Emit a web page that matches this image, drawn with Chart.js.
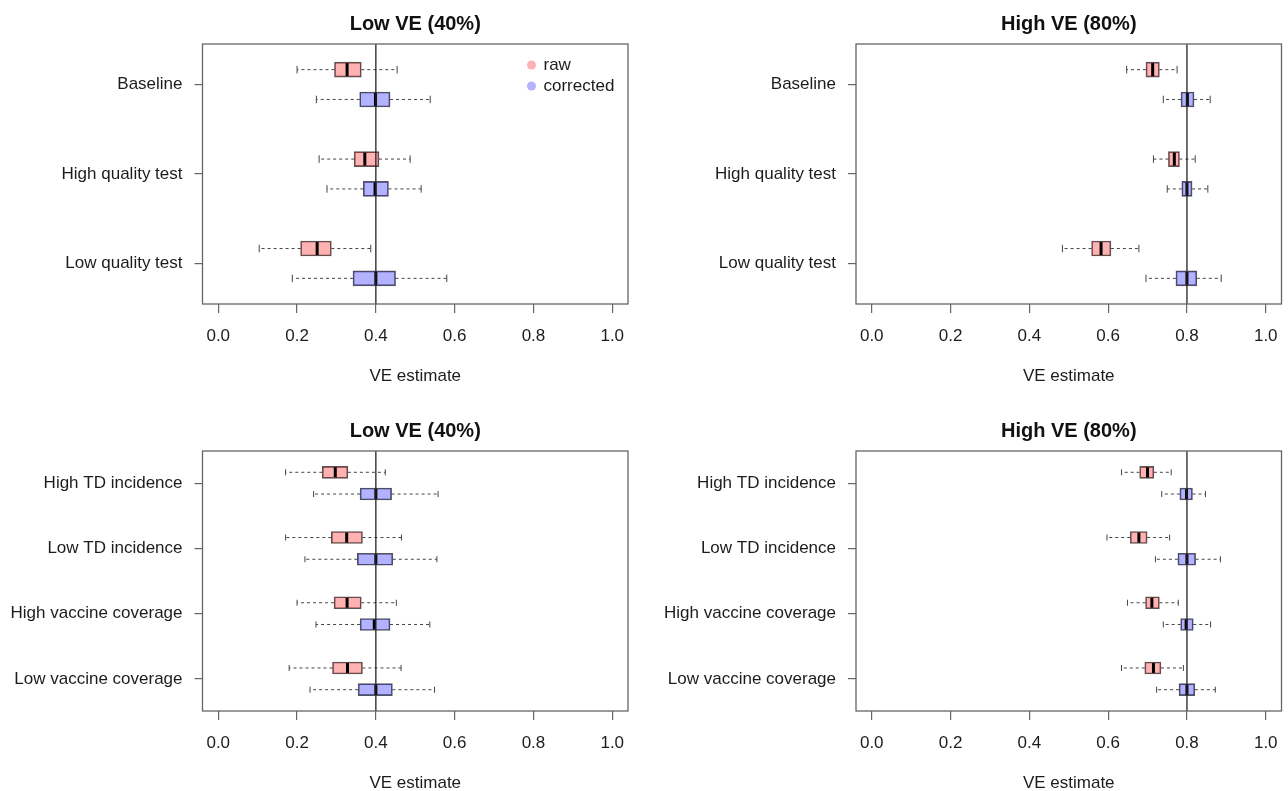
<!DOCTYPE html>
<html>
<head>
<meta charset="utf-8">
<script src="https://cdn.jsdelivr.net/npm/chart.js@4.4.1/dist/chart.umd.min.js"></script>
<style>
  html, body { margin: 0; padding: 0; background: #ffffff; overflow: hidden; width: 1288px; height: 791px; }
  canvas { position: absolute; }
</style>
</head>
<body>
<canvas id="c1" width="644" height="398" style="left:0px;top:0px;"></canvas>
<canvas id="c2" width="664" height="398" style="left:644px;top:0px;"></canvas>
<canvas id="c3" width="644" height="410" style="left:0px;top:395px;"></canvas>
<canvas id="c4" width="664" height="410" style="left:644px;top:395px;"></canvas>
<script>
// ---------------- DATA ----------------
const xTickValues = [0.0, 0.2, 0.4, 0.6, 0.8, 1.0];
const xAxisTitle = 'VE estimate';
const panelTitles = ['Low VE (40%)', 'High VE (80%)'];
const trueVE = [0.4, 0.8];
const seriesNames = ['raw', 'corrected'];

const topCategories = ['Baseline', 'High quality test', 'Low quality test'];
const bottomCategories = ['High TD incidence', 'Low TD incidence', 'High vaccine coverage', 'Low vaccine coverage'];

// each entry: [lower whisker, Q1, median, Q3, upper whisker]
const topLowRaw = [
  [0.200, 0.295, 0.327, 0.363, 0.454],
  [0.256, 0.345, 0.372, 0.408, 0.487],
  [0.104, 0.209, 0.251, 0.287, 0.387]
];
const topLowCorrected = [
  [0.249, 0.359, 0.399, 0.436, 0.538],
  [0.276, 0.368, 0.398, 0.432, 0.515],
  [0.188, 0.342, 0.400, 0.450, 0.580]
];
const topHighRaw = [
  [0.647, 0.696, 0.713, 0.730, 0.775],
  [0.715, 0.753, 0.768, 0.781, 0.821],
  [0.484, 0.558, 0.582, 0.607, 0.678]
];
const topHighCorrected = [
  [0.740, 0.785, 0.801, 0.818, 0.859],
  [0.750, 0.787, 0.800, 0.813, 0.853],
  [0.696, 0.772, 0.800, 0.825, 0.887]
];
const bottomLowRaw = [
  [0.171, 0.264, 0.297, 0.329, 0.424],
  [0.171, 0.287, 0.326, 0.366, 0.465],
  [0.200, 0.294, 0.327, 0.363, 0.452],
  [0.180, 0.290, 0.328, 0.366, 0.464]
];
const bottomLowCorrected = [
  [0.242, 0.360, 0.400, 0.440, 0.558],
  [0.220, 0.353, 0.400, 0.443, 0.555],
  [0.248, 0.360, 0.396, 0.436, 0.537],
  [0.233, 0.355, 0.400, 0.442, 0.549]
];
const bottomHighRaw = [
  [0.634, 0.680, 0.700, 0.716, 0.760],
  [0.597, 0.656, 0.678, 0.699, 0.756],
  [0.649, 0.695, 0.711, 0.730, 0.778],
  [0.634, 0.693, 0.715, 0.734, 0.791]
];
const bottomHighCorrected = [
  [0.736, 0.782, 0.799, 0.814, 0.847],
  [0.720, 0.777, 0.800, 0.822, 0.885],
  [0.740, 0.784, 0.798, 0.816, 0.860],
  [0.723, 0.780, 0.800, 0.820, 0.872]
];

// ---------------- STYLE ----------------
const FONT = '"Liberation Sans", Arial, Helvetica, sans-serif';
const rawFill = 'rgba(255,0,0,0.30)';
const corFill = 'rgba(0,0,255,0.30)';
const frameColor = '#666666';
const textColor = '#1c1c1c';

// box-plot decorations drawn with the chart's own scales
const boxPlugin = {
  id: 'boxExtras',
  afterDatasetsDraw(chart, args, opts) {
    const {ctx, chartArea, scales: {x, y}} = chart;
    ctx.save();
    chart.data.datasets.forEach((ds, di) => {
      ds.data.forEach((pt) => {
        const s = pt.stats;
        const yc = y.getPixelForValue(pt.y);
        const half = ds.barThickness / 2;
        const px = v => x.getPixelForValue(v);
        // whiskers
        ctx.strokeStyle = '#444444';
        ctx.lineWidth = 1;
        ctx.setLineDash([3, 3]);
        ctx.beginPath();
        ctx.moveTo(px(s[1]), yc); ctx.lineTo(px(s[0]), yc);
        ctx.moveTo(px(s[3]), yc); ctx.lineTo(px(s[4]), yc);
        ctx.stroke();
        ctx.setLineDash([]);
        // staples
        ctx.beginPath();
        ctx.moveTo(px(s[0]), yc - half / 2); ctx.lineTo(px(s[0]), yc + half / 2);
        ctx.moveTo(px(s[4]), yc - half / 2); ctx.lineTo(px(s[4]), yc + half / 2);
        ctx.stroke();
        // median
        ctx.strokeStyle = '#000000';
        ctx.lineWidth = 3;
        ctx.beginPath();
        ctx.moveTo(px(s[2]), yc - half + 1); ctx.lineTo(px(s[2]), yc + half - 1);
        ctx.stroke();
      });
    });
    // true VE reference line
    const xv = x.getPixelForValue(opts.refValue);
    ctx.strokeStyle = '#222222';
    ctx.lineWidth = 1.3;
    ctx.beginPath();
    ctx.moveTo(xv, chartArea.top); ctx.lineTo(xv, chartArea.bottom);
    ctx.stroke();
    // frame
    ctx.strokeStyle = frameColor;
    ctx.lineWidth = 1.3;
    ctx.strokeRect(chartArea.left, chartArea.top, chartArea.right - chartArea.left, chartArea.bottom - chartArea.top);
    // legend
    if (opts.showLegend) {
      const lx = x.getPixelForValue(0.795);
      const items = [[seriesNames[0], rawFill], [seriesNames[1], corFill]];
      ctx.font = '17px ' + FONT;
      ctx.textBaseline = 'middle';
      ctx.textAlign = 'left';
      items.forEach((it, k) => {
        const ly = chartArea.top + 21 + k * 21;
        ctx.fillStyle = it[1];
        ctx.beginPath(); ctx.arc(lx, ly, 4.5, 0, Math.PI * 2); ctx.fill();
        ctx.fillStyle = textColor;
        ctx.fillText(it[0], lx + 12, ly);
      });
    }
    ctx.restore();
  }
};

function makePanel(canvasId, cats, rawStats, corStats, title, ref, cfg) {
  const labelPos = cats.map((c, i) => 3 * i + 1.5);
  const rawData = rawStats.map((s, i) => ({ y: 3 * i + 1, x: [s[1], s[3]], stats: s }));
  const corData = corStats.map((s, i) => ({ y: 3 * i + 2, x: [s[1], s[3]], stats: s }));
  const n = cats.length * 3 - 1;
  const ext = (n + 1) * 0.04;
  return new Chart(document.getElementById(canvasId), {
    type: 'bar',
    data: {
      datasets: [
        { label: seriesNames[0], data: rawData, backgroundColor: rawFill, borderColor: '#555555',
          borderWidth: 1, borderSkipped: false, barThickness: cfg.bar, grouped: false },
        { label: seriesNames[1], data: corData, backgroundColor: corFill, borderColor: '#555555',
          borderWidth: 1, borderSkipped: false, barThickness: cfg.bar, grouped: false }
      ]
    },
    options: {
      indexAxis: 'y',
      responsive: false,
      animation: false,
      devicePixelRatio: 1,
      layout: { padding: { left: 0, right: cfg.padRight, top: 0, bottom: 0 } },
      plugins: {
        legend: { display: false },
        tooltip: { enabled: false },
        title: {
          display: true, text: title, fullSize: false, color: '#111111',
          font: { family: FONT, size: 20, weight: 'bold' },
          padding: { top: cfg.titleTop, bottom: cfg.titleBottom }
        },
        boxExtras: { refValue: ref, showLegend: cfg.legend }
      },
      scales: {
        x: {
          type: 'linear', min: -0.04, max: 1.04,
          afterBuildTicks: s => { s.ticks = xTickValues.map(v => ({ value: v })); },
          ticks: { callback: v => Number(v).toFixed(1), maxRotation: 0, autoSkip: false,
                   color: textColor, font: { family: FONT, size: 17 }, padding: 13 },
          grid: { drawOnChartArea: false, drawTicks: true, tickLength: 9, color: frameColor, lineWidth: 1.2, offset: false },
          border: { display: false },
          title: { display: true, text: xAxisTitle, color: textColor, font: { family: FONT, size: 17 },
                   padding: { top: 0, bottom: 11 } },
          afterFit: s => { s.height = 94; }
        },
        y: {
          type: 'linear', reverse: true, offset: false,
          min: 0.5 - ext, max: n + 0.5 + ext,
          afterBuildTicks: s => { s.ticks = labelPos.map(v => ({ value: v })); },
          ticks: { callback: (v, i) => cats[i], autoSkip: false, color: textColor,
                   font: { family: FONT, size: 17 }, padding: 12 },
          grid: { drawOnChartArea: false, drawTicks: true, tickLength: 8, color: frameColor, lineWidth: 1.2, offset: false },
          border: { display: false },
          afterFit: s => { s.width = cfg.yWidth; }
        }
      }
    },
    plugins: [boxPlugin]
  });
}

makePanel('c1', topCategories, topLowRaw, topLowCorrected, panelTitles[0], trueVE[0],
  { bar: 15, yWidth: 202.5, padRight: 16, titleTop: 12, titleBottom: 8, legend: true });
makePanel('c2', topCategories, topHighRaw, topHighCorrected, panelTitles[1], trueVE[1],
  { bar: 15, yWidth: 212, padRight: 26.5, titleTop: 12, titleBottom: 8, legend: false });
makePanel('c3', bottomCategories, bottomLowRaw, bottomLowCorrected, panelTitles[0], trueVE[0],
  { bar: 12, yWidth: 202.5, padRight: 16, titleTop: 24, titleBottom: 8, legend: false });
makePanel('c4', bottomCategories, bottomHighRaw, bottomHighCorrected, panelTitles[1], trueVE[1],
  { bar: 12, yWidth: 212, padRight: 26.5, titleTop: 24, titleBottom: 8, legend: false });
</script>
</body>
</html>
